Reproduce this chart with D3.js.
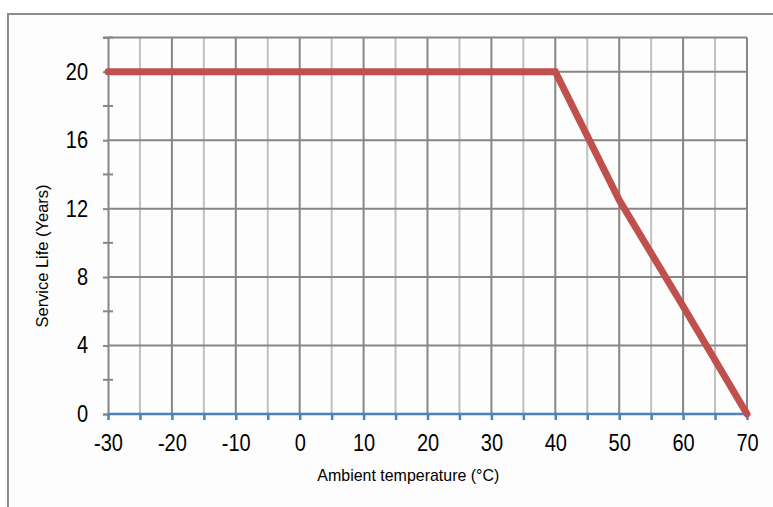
<!DOCTYPE html>
<html>
<head>
<meta charset="utf-8">
<script src="https://cdn.jsdelivr.net/npm/d3@7"></script>
<style>
  body { margin: 0; background: #fff; }
  svg text { font-family: "Liberation Sans", Arial, sans-serif; fill: #000; }
</style>
</head>
<body>
<svg id="chart" width="773" height="507"></svg>
<script>
// service life vs ambient temperature
var temps = [-30, 40, 50, 60, 70];
var years = [20, 20, 12.5, 6.3, 0];

var xTicks = [-30, -20, -10, 0, 10, 20, 30, 40, 50, 60, 70];
var xMinor = [-25, -15, -5, 5, 15, 25, 35, 45, 55, 65];
var yTicks = [0, 4, 8, 12, 16, 20];
var yMinor = [2, 6, 10, 14, 18, 22];

var margin = {top: 37.5, right: 26, bottom: 93, left: 108},
    width = 773 - margin.left - margin.right,
    height = 507 - margin.top - margin.bottom;

var squeeze = 0.87; // labels in the original are narrow

var svg = d3.select("#chart");

// outer frame (runs off the right and bottom of the picture)
svg.append("rect")
  .attr("x", 8).attr("y", 14)
  .attr("width", 800).attr("height", 600)
  .style("fill", "#fdfdfd")
  .style("stroke", "#8c8c8c")
  .style("stroke-width", 2);

var g = svg.append("g")
  .attr("transform", "translate(" + margin.left + "," + margin.top + ")");

var x = d3.scaleLinear().domain([-30, 70]).range([0, width]);
var y = d3.scaleLinear().domain([0, 22]).range([height, 0]);

// vertical grid, light at the fives
g.selectAll(".vminor").data(xMinor).enter().append("line")
  .attr("x1", function (d) { return x(d); }).attr("x2", function (d) { return x(d); })
  .attr("y1", 0).attr("y2", height)
  .style("stroke", "#c0c0c0").style("stroke-width", 2);

g.selectAll(".vmajor").data(xTicks.slice(1)).enter().append("line")
  .attr("x1", function (d) { return x(d); }).attr("x2", function (d) { return x(d); })
  .attr("y1", 0).attr("y2", height)
  .style("stroke", "#868686").style("stroke-width", 2);

// horizontal grid
g.selectAll(".hgrid").data(yTicks.slice(1).concat([22])).enter().append("line")
  .attr("x1", 0).attr("x2", width)
  .attr("y1", function (d) { return y(d); }).attr("y2", function (d) { return y(d); })
  .style("stroke", "#868686").style("stroke-width", 2);

// y axis
var yAxis = d3.axisLeft(y).tickValues(yTicks).tickSize(5);
var yg = g.append("g").call(yAxis);
yg.select(".domain").style("stroke", "#868686").style("stroke-width", 2);
yg.selectAll(".tick line").style("stroke", "#868686").style("stroke-width", 2);
yg.selectAll(".tick text")
  .style("font-size", "23px")
  .attr("x", -20 / squeeze)
  .attr("transform", "scale(" + squeeze + ",1)");

// minor ticks cross the y axis
g.selectAll(".yminor").data(yMinor).enter().append("line")
  .attr("x1", -5).attr("x2", 5)
  .attr("y1", function (d) { return y(d); }).attr("y2", function (d) { return y(d); })
  .style("stroke", "#868686").style("stroke-width", 2);

// x axis in blue
var xAxis = d3.axisBottom(x).tickValues(xTicks.concat(xMinor)).tickSize(6)
  .tickFormat(function (d) { return xTicks.indexOf(d) >= 0 ? d : ""; });
var xg = g.append("g").attr("transform", "translate(0," + height + ")").call(xAxis);
xg.select(".domain").attr("d", "M0,0H" + width).style("stroke", "#4f81bd").style("stroke-width", 2.5);
xg.selectAll(".tick line").style("stroke", "#4f81bd").style("stroke-width", 2.5);
xg.selectAll(".tick text")
  .style("font-size", "23px")
  .attr("y", 37).attr("dy", 0)
  .attr("transform", "scale(" + squeeze + ",1)");

// data line
var line = d3.line()
  .x(function (d, i) { return x(temps[i]); })
  .y(function (d) { return y(d); });

g.append("path")
  .datum(years)
  .attr("d", line)
  .style("fill", "none")
  .style("stroke", "#c0504d")
  .style("stroke-width", 7)
  .style("stroke-linecap", "round")
  .style("stroke-linejoin", "miter");

// axis titles
g.append("text")
  .attr("text-anchor", "middle")
  .style("font-size", "17px")
  .attr("textLength", 143)
  .attr("lengthAdjust", "spacingAndGlyphs")
  .attr("transform", "translate(" + (-60) + "," + (256 - margin.top) + ")rotate(-90)")
  .text("Service Life (Years)");

g.append("text")
  .attr("text-anchor", "middle")
  .style("font-size", "17px")
  .attr("textLength", 182)
  .attr("lengthAdjust", "spacingAndGlyphs")
  .attr("x", x(17))
  .attr("y", height + 67)
  .text("Ambient temperature (°C)");
</script>
</body>
</html>
